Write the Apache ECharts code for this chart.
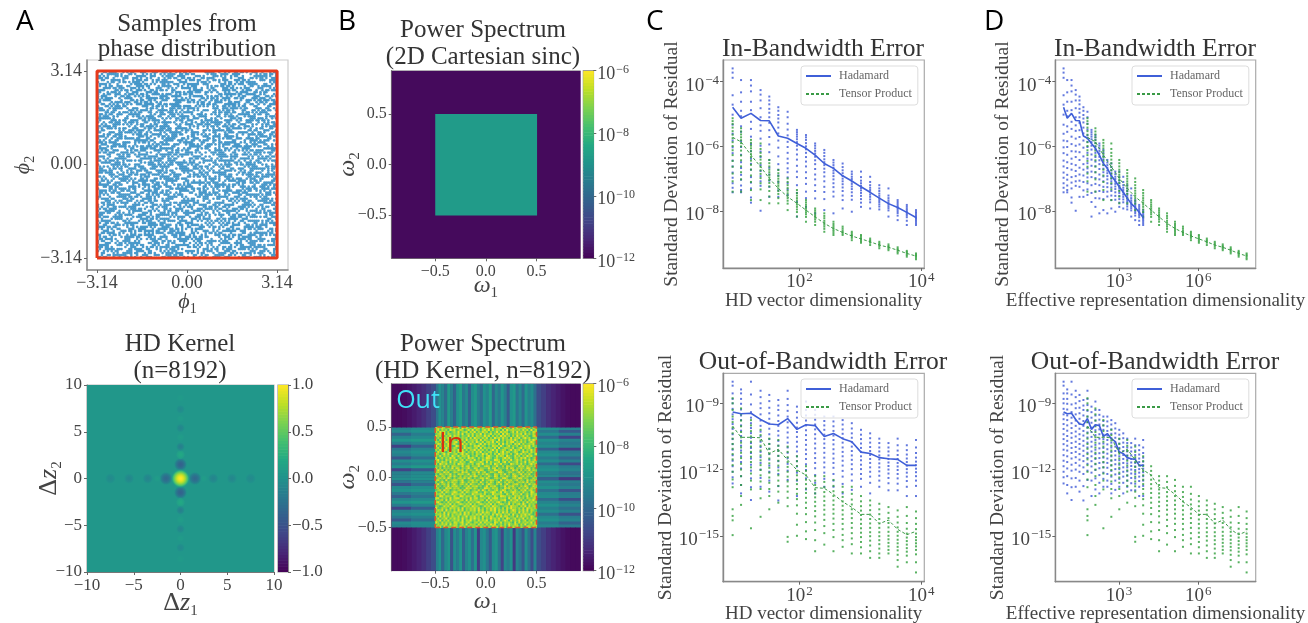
<!DOCTYPE html>
<html><head><meta charset="utf-8">
<style>html,body{margin:0;background:#fff}#c{width:1308px;height:623px;filter:blur(0.6px)}</style>
<script src="https://cdn.jsdelivr.net/npm/echarts@6/dist/echarts.min.js"></script>
</head><body><div id="c"></div>
<script>
// NOTE: line values and strip ranges are read off the picture. The individual speckles
// (phase samples, spectrum noise, stripes, strip dots) cannot be resolved in the source,
// so they are hand-typed estimates that follow its density and range.
const hdDims=[8,11,16,23,32,45,64,91,128,181,256,362,512,724,1024,1448,2048,2896,4096,5793,8192];
const tensorEffectiveDims=[64,128,256,512,1024,2048,4096,8192,16384,32768,65536,131072,262144,524288,1048576,2097152,4194304,8388608,16777216,33554432,67108864];

const inHadamard=[-4.79,-5.13,-4.98,-5.20,-5.21,-5.68,-5.75,-5.91,-6.06,-6.27,-6.53,-6.68,-6.91,-7.07,-7.25,-7.42,-7.60,-7.77,-7.89,-8.04,-8.20];
const inTensor=[-5.72,-5.86,-6.27,-6.63,-6.99,-7.30,-7.56,-7.76,-7.97,-8.18,-8.38,-8.54,-8.66,-8.77,-8.86,-8.95,-9.05,-9.12,-9.21,-9.31,-9.39];
const outHadamard=[-9.39,-9.47,-9.45,-9.73,-9.94,-9.97,-9.69,-10.18,-9.97,-10.01,-10.50,-10.37,-10.60,-10.74,-11.21,-11.27,-11.46,-11.51,-11.54,-11.81,-11.81];
const outTensor=[-10.03,-10.54,-10.54,-10.56,-11.27,-11.08,-11.57,-12.02,-12.25,-12.82,-12.85,-13.12,-13.46,-13.71,-14.03,-14.03,-14.45,-14.29,-14.71,-14.95,-14.80];

const inHadamardDots=[
[-3.59,-3.72,-3.88,-4.42,-4.71,-5.02,-5.33,-5.61,-5.82,-6.03,-6.21,-6.44,-6.62,-6.81,-6.97,-7.14,-7.28,-7.42],
[-3.95,-4.33,-4.62,-4.9,-5.07,-5.38,-5.55,-5.84,-6.02,-6.26,-6.49,-6.67,-6.88,-7.03,-7.21,-7.35,-7.42],
[-3.95,-4.12,-4.3,-4.62,-4.88,-5.24,-5.46,-5.7,-5.93,-6.15,-6.38,-6.54,-6.72,-6.95,-7.12,-7.3,-7.58,-7.74],
[-4.26,-4.4,-4.58,-4.82,-5.1,-5.35,-5.52,-5.76,-5.98,-6.16,-6.33,-6.58,-6.76,-6.92,-7.08,-7.22,-7.99],
[-4.46,-4.58,-4.7,-4.84,-4.96,-5.1,-5.27,-5.5,-5.71,-5.94,-6.18,-6.42,-6.66,-6.87,-7.06,-7.25,-7.56],
[-4.79,-4.9,-5.03,-5.14,-5.26,-5.42,-5.6,-5.82,-6.04,-6.31,-6.55,-6.72,-6.9,-7.1,-7.36,-7.56],
[-4.93,-5.1,-5.3,-5.48,-5.66,-5.86,-6.02,-6.2,-6.38,-6.52,-6.68,-6.8,-6.96,-7.14,-7.33,-7.5],
[-5.49,-5.56,-5.63,-5.7,-5.78,-5.87,-5.98,-6.1,-6.25,-6.41,-6.6,-6.78,-6.95,-7.2,-7.44,-7.72,-8.17],
[-5.65,-5.72,-5.8,-5.9,-6.0,-6.09,-6.2,-6.33,-6.47,-6.62,-6.8,-6.98,-7.16,-7.4,-7.6,-7.87],
[-5.91,-5.98,-6.06,-6.14,-6.22,-6.32,-6.43,-6.55,-6.7,-6.87,-7.02,-7.2,-7.38,-7.61,-8.07],
[-6.11,-6.2,-6.3,-6.4,-6.49,-6.58,-6.69,-6.8,-6.93,-7.08,-7.25,-7.41,-7.63,-7.97],
[-6.42,-6.5,-6.58,-6.66,-6.75,-6.83,-6.92,-7.02,-7.14,-7.26,-7.4,-7.55,-8.07],
[-6.53,-6.64,-6.74,-6.83,-6.92,-7.0,-7.08,-7.17,-7.27,-7.38,-7.52,-7.66,-7.92],
[-6.78,-6.86,-6.94,-7.01,-7.09,-7.16,-7.24,-7.32,-7.42,-7.53,-7.65,-8.02],
[-6.78,-6.95,-7.06,-7.14,-7.22,-7.29,-7.36,-7.44,-7.53,-7.63,-7.74,-7.87],
[-6.94,-7.1,-7.2,-7.28,-7.35,-7.42,-7.49,-7.56,-7.64,-7.73,-7.92],
[-7.2,-7.3,-7.38,-7.46,-7.53,-7.6,-7.66,-7.72,-7.79,-7.86,-7.95],
[-7.3,-7.52,-7.6,-7.67,-7.73,-7.79,-7.85,-7.91,-7.98,-8.17],
[-7.66,-7.72,-7.78,-7.84,-7.89,-7.94,-8.0,-8.06,-8.14,-8.28],
[-7.81,-7.87,-7.93,-7.98,-8.03,-8.08,-8.13,-8.19,-8.3,-8.43],
[-7.97,-8.03,-8.08,-8.13,-8.18,-8.22,-8.26,-8.31,-8.37,-8.43]];
const inTensorDots=[
[-5.13,-5.22,-5.31,-5.42,-5.53,-5.64,-5.75,-5.87,-5.99,-6.12,-6.27,-6.45,-6.63,-6.84,-7.08,-7.4],
[-5.44,-5.54,-5.63,-5.72,-5.81,-5.9,-6.0,-6.13,-6.28,-6.43,-6.62,-6.8,-7.02,-7.4],
[-5.8,-5.89,-5.98,-6.06,-6.15,-6.24,-6.33,-6.44,-6.57,-6.72,-6.9,-7.1,-7.35,-7.66],
[-5.91,-6.08,-6.2,-6.3,-6.41,-6.52,-6.63,-6.74,-6.85,-6.98,-7.14,-7.33,-7.66],
[-6.42,-6.52,-6.62,-6.72,-6.8,-6.88,-6.96,-7.04,-7.13,-7.24,-7.38,-7.55,-7.76],
[-6.73,-6.83,-6.92,-7.0,-7.08,-7.15,-7.22,-7.3,-7.38,-7.47,-7.6,-7.76],
[-6.99,-7.1,-7.2,-7.29,-7.37,-7.45,-7.52,-7.6,-7.68,-7.77,-7.97],
[-7.35,-7.44,-7.52,-7.6,-7.67,-7.74,-7.8,-7.87,-7.95,-8.03,-8.17],
[-7.66,-7.73,-7.8,-7.86,-7.92,-7.98,-8.04,-8.1,-8.18,-8.33],
[-7.92,-7.98,-8.04,-8.1,-8.15,-8.2,-8.26,-8.33,-8.43],
[-8.07,-8.15,-8.22,-8.3,-8.36,-8.42,-8.48,-8.55,-8.64],
[-8.33,-8.4,-8.46,-8.52,-8.57,-8.62,-8.68,-8.74],
[-8.48,-8.54,-8.6,-8.65,-8.69,-8.74],
[-8.64,-8.69,-8.74,-8.78,-8.83,-8.9],
[-8.74,-8.79,-8.84,-8.88,-8.93,-8.98],
[-8.85,-8.9,-8.94,-8.98,-9.05],
[-8.95,-9.0,-9.04,-9.09,-9.15],
[-9.03,-9.08,-9.12,-9.16,-9.21],
[-9.12,-9.17,-9.21,-9.26,-9.31],
[-9.23,-9.27,-9.31,-9.36,-9.41],
[-9.31,-9.35,-9.39,-9.44,-9.49]];
const outHadamardDots=[
[-8.02,-8.2,-8.55,-8.8,-9.0,-9.25,-9.5,-9.72,-9.94,-10.16,-10.4,-10.62,-10.85,-11.1,-11.35,-11.6,-11.85,-12.1,-12.35,-12.63],
[-8.37,-8.55,-8.8,-9.02,-9.28,-9.55,-9.76,-10.0,-10.24,-10.48,-10.7,-10.92,-11.14,-11.4,-11.66,-11.95,-12.3,-12.7,-13.08],
[-8.02,-8.6,-9.05,-9.4,-9.65,-9.9,-10.12,-10.35,-10.56,-10.8,-11.02,-11.25,-11.5,-11.78,-12.05,-12.4,-12.8,-13.38],
[-8.43,-8.72,-9.0,-9.22,-9.5,-9.78,-10.02,-10.28,-10.5,-10.74,-10.98,-11.2,-11.44,-11.7,-12.0,-12.38,-12.78],
[-8.62,-8.9,-9.2,-9.45,-9.7,-9.92,-10.15,-10.4,-10.62,-10.84,-11.06,-11.3,-11.55,-11.82,-12.1,-12.5,-13.0],
[-8.85,-9.1,-9.3,-9.55,-9.8,-10.02,-10.25,-10.46,-10.7,-10.92,-11.15,-11.38,-11.62,-11.9,-12.2,-12.75,-13.4],
[-8.43,-8.8,-9.08,-9.34,-9.6,-9.86,-10.1,-10.32,-10.55,-10.78,-11.0,-11.24,-11.48,-11.74,-12.05,-12.47],
[-9.15,-9.4,-9.65,-9.88,-10.1,-10.3,-10.52,-10.74,-10.96,-11.18,-11.4,-11.62,-11.86,-12.14,-12.5,-13.2],
[-8.92,-9.3,-9.55,-9.78,-10.0,-10.22,-10.44,-10.66,-10.88,-11.1,-11.3,-11.52,-11.76,-12.02,-12.4,-12.9],
[-9.3,-9.52,-9.74,-9.96,-10.18,-10.4,-10.6,-10.82,-11.04,-11.26,-11.48,-11.7,-11.94,-12.25,-12.6,-13.08],
[-9.6,-9.8,-10.0,-10.2,-10.42,-10.62,-10.82,-11.02,-11.24,-11.46,-11.68,-11.9,-12.14,-12.42,-12.78],
[-9.6,-9.82,-10.04,-10.25,-10.46,-10.66,-10.86,-11.08,-11.28,-11.5,-11.7,-11.92,-12.2,-12.5,-12.78],
[-9.76,-9.96,-10.18,-10.38,-10.58,-10.78,-11.0,-11.2,-11.4,-11.6,-11.82,-12.06,-12.32,-12.65,-13.08],
[-9.9,-10.14,-10.36,-10.56,-10.76,-10.96,-11.16,-11.36,-11.56,-11.76,-11.98,-12.22,-12.5,-12.92],
[-10.2,-10.42,-10.62,-10.82,-11.02,-11.2,-11.4,-11.58,-11.78,-11.98,-12.2,-12.42,-12.78],
[-10.36,-10.58,-10.78,-10.98,-11.16,-11.34,-11.52,-11.7,-11.9,-12.1,-12.32,-12.6,-13.08],
[-10.6,-10.8,-11.0,-11.18,-11.36,-11.54,-11.72,-11.9,-12.08,-12.28,-12.5,-12.78],
[-10.8,-11.0,-11.18,-11.36,-11.52,-11.68,-11.84,-12.0,-12.18,-12.38,-12.62,-12.94],
[-10.6,-10.9,-11.14,-11.34,-11.52,-11.7,-11.86,-12.02,-12.2,-12.4,-12.64,-12.94],
[-10.9,-11.12,-11.32,-11.5,-11.66,-11.82,-11.98,-12.14,-12.32,-12.52,-12.78,-13.2],
[-10.66,-11.0,-11.25,-11.46,-11.64,-11.8,-11.96,-12.12,-12.3,-12.5,-12.74,-13.2]];
const outTensorDots=[
[-8.77,-9.0,-9.3,-9.6,-9.85,-10.1,-10.36,-10.6,-10.84,-11.06,-11.3,-11.54,-11.8,-12.1,-12.45,-12.8,-13.8,-14.1,-14.3,-14.97],
[-9.23,-9.5,-9.78,-10.04,-10.3,-10.54,-10.78,-11.0,-11.24,-11.48,-11.74,-12.0,-12.3,-12.7,-13.2,-13.6],
[-9.76,-10.0,-10.26,-10.5,-10.74,-10.96,-11.2,-11.42,-11.66,-11.9,-12.18,-12.5,-12.9,-14.66],
[-10.2,-10.44,-10.68,-10.92,-11.14,-11.36,-11.58,-11.8,-12.02,-12.26,-12.54,-12.88,-13.3,-14.14],
[-10.6,-10.84,-11.06,-11.28,-11.5,-11.72,-11.92,-12.14,-12.36,-12.6,-12.88,-13.2,-13.8],
[-10.66,-10.92,-11.16,-11.38,-11.6,-11.82,-12.04,-12.26,-12.5,-12.74,-13.0,-13.5],
[-10.96,-11.2,-11.44,-11.66,-11.88,-12.1,-12.32,-12.54,-12.76,-13.0,-13.28,-13.66,-15.05,-15.27],
[-11.4,-11.62,-11.84,-12.06,-12.26,-12.46,-12.66,-12.88,-13.1,-13.34,-13.62,-14.0,-14.5,-15.0],
[-11.85,-12.06,-12.26,-12.46,-12.66,-12.86,-13.06,-13.28,-13.5,-13.74,-14.02,-14.38,-14.8,-15.15],
[-12.3,-12.5,-12.7,-12.9,-13.08,-13.26,-13.46,-13.66,-13.88,-14.12,-14.4,-14.74,-15.2,-15.7],
[-12.3,-12.56,-12.8,-13.02,-13.22,-13.42,-13.62,-13.82,-14.04,-14.28,-14.56,-14.88,-15.4],
[-12.47,-12.74,-12.98,-13.2,-13.4,-13.6,-13.8,-14.0,-14.22,-14.46,-14.74,-15.06,-15.7],
[-12.78,-13.02,-13.24,-13.44,-13.64,-13.84,-14.04,-14.24,-14.46,-14.7,-14.96,-15.2,-15.5],
[-12.78,-13.1,-13.36,-13.58,-13.8,-14.0,-14.2,-14.42,-14.64,-14.88,-15.12,-15.38,-15.8],
[-13.2,-13.44,-13.66,-13.86,-14.06,-14.26,-14.46,-14.66,-14.86,-15.06,-15.28,-15.52,-15.8],
[-13.4,-13.62,-13.84,-14.04,-14.24,-14.44,-14.64,-14.84,-15.02,-15.22,-15.44,-15.7,-16.0],
[-13.55,-13.8,-14.02,-14.24,-14.44,-14.64,-14.84,-15.02,-15.2,-15.38,-15.58,-15.8,-16.0],
[-13.7,-13.96,-14.2,-14.42,-14.62,-14.82,-15.0,-15.16,-15.32,-15.48,-15.64,-15.8],
[-13.85,-14.14,-14.4,-14.62,-14.82,-15.0,-15.18,-15.34,-15.5,-15.66,-15.86,-16.1,-16.4],
[-13.7,-14.1,-14.42,-14.68,-14.9,-15.08,-15.24,-15.4,-15.56,-15.72,-15.9,-16.2],
[-13.9,-14.2,-14.46,-14.7,-14.9,-15.06,-15.2,-15.34,-15.48,-15.64,-15.84,-16.2,-16.66]];

// phase samples as occupancy rows (hex, 4 cells a digit, top row first)
const phaseRows=[
"9d3a6c17e25b08f4ac6931d","4e71b8a25fc630d97e14a6b","b26d0f93a7e1c58b2d40f79","731ec5a84b9d26f0317ca5e",
"c8f2473de06ab1957cd283f","1a96db05f7c38e24a96f10d","e540a7b2693dfc18b57e36a","2dc91f68e3a4705bd28c4f9",
"87b3ea4c159f62d07ba3c15","f06d2795bc08e3a1f6472de","3ab8c1e6047dd952a8e1b60","96e47d2fa35b180ce73f924",
"d12b9a60fc78e35b41d07ca","5f8c34e7b19a06d2fc68b31","a7016dc2e8f5394ba027de6","38ed95b4107ca62f8d13a5c",
"c45a27f9de3086b1e79c42f","1be6083dac7f4592b6d0381","74f9c1a52e6db0837fa1ec4","e2307db8f694ac15d2c85b9",
"0b9ea6c4375f128de64ba70","6dc1f3827ea09b4561f3dc8","a3584be91dc72f06ab8e147","f71c06d3a2b5e849073cd5a",
"28b6e95f40dc1a73e92f6b0","9ce4713aeb8256dfc0174a6","41fa2d86c05e9b37a6e82dc","b7309ce5f168a4d2739b05f",
"5ea6c1d273fb8094ceb4a13","d0827f4eb3961cafd1063e8","3c9db6a05e72f481a3f9c26","86e1473f9cd0ba25684ed1b",
"f2b50ea86d143c97eb02a7d","19cd7362af85e0b4d93f681","a4608fb1c7e23d95068cbe4","7d3e9a52b04f168ce7a4d30",
"c1f6804de93ab275fc1936a","2ab75de61c08f9341eb7d82","e9046cb3f72d8a1569c30ef","5378ad1e94b6c02fa45de16",
"bd1f62a8073e59cd1682fa3","06ca9e34fbd7128e3dc5b09","f48b13d765a0e92c7f0a4d6","92e70cfa3b18d64a05ebc71",
"3d5ab68e1f092c7df3946ae","c7e204d9a6fb3581ac27d08","18f693cb57e4d02be96f15a","a25d8e07f1c36b94d08a3ce",
"64b1fc93a0d7e258137cfb6","ed09273cb68f15a4e5ac092","7f4a61e8dc052b9f30d6e84","0c93bd5f2a78e61cb94f2d7",
"b86e1470f93cad25e1067fa","419fac26d7b308e5ca3d91c","da075eb38f1629c4a7f4b06","26e8c91da405f7b318dc6e3",
"f3b14a7ec86d092fb65017d","8d60f25b93ae1c47d2ea9b4","1ca7d84e06f3b592c0473fe","e53b90f6a1c72d84f9b6a21",
"69d0ec47b2581fa36ed18c5","a28f136dc9e04b75a03f7d9","34c7b5ea0f928d1e7c94b60","db1e68f2a7053c964be12fa",
"07a93dc6e18fb42095d6c73","c65f82b14ad7e03f1a8b0ed","9e14cb07d36a2f85e3c7916","52b7f0a9e84d1c63b0fa4d8",
"ad38e615c2f09b7d4e6123c","1f90d7ca43b6e582f71dba9","e6c258b07d1f3a94c802e6f","70ad3e9cf5168b2d96fa143",
"b3f1476d0ae9c528073db6e","48e92cb5f1a07d36bfc1089","d7061ae84fc3925ba46e7d2","2b5cf9d3706e18a4d29035f",
"91ea60c7b3d4f2586e1ba7c","f6384db2e19c07a5138fe40","5ac07e19f6b2d384ca96d1b","8317b6fd4ea05c92f7e028a",
"ce92a05d37f1b86d01c4f73","34b8e6f14cd92a07b63e95d","a90d73c2f85e6b14e2d7a08","6f2c15ab90e7d348a1f6c3e",
"d84e92076bc3a1f5782db96","17a5f3ce2d094b68fc3e104","e3c96d0b81f7a254096cda7","7b04e8a5fd3c6192b5e7f38",
"2fd1b7649ea08c53d1fa26c","9a683fc05d1eb472e60c9b4","c05eb1d2a7f4968c3ba7d15","46f7293e8bd06a1f95c482e",
"b19ca4e06f352d87e0d3fa6"];
const phaseCells=92;

// power-spectrum panels: level digits / log10 exponents
const sincOutLevel=-11.85, sincInLevel=-8.75;
const inBandNoise=[
"67485357265819473628571746839265718462937456827164",
"58274619682576148392751684927365182946755638471926",
"73958261473926581749263857162493857614829364715287",
"46829175364829157382649173582647193852647581936274",
"85713649285716439281756394817263958461729458362178",
"36267481582936471829563748162957384619275826947135",
"61849273651847293564819275368419273658495173628496",
"75293861479253816472953816749285361748926483715962",
"48716392584169372846159283746518293746185927346581",
"92637485129673841528693741528673941582637164859273",
"57182946375182947635819274653819247653814692758316",
"63948721563948271659384726159382476159385728164937",
"28475169372849516372849153672481593762486139572846",
"76159382467159384261753948261739584627159483627518",
"53827461953827649153824716953284761953284716395824",
"81472639581473629584172639851473269584176385926147",
"69251847369258174639251847632985174639258471638259",
"47385619274385612973458619273458169273458263917584",
"71964825371968425371684925371964825319647382615947",
"54639271865439278165493278615493271865431958274638",
"82716453928716459328716543927816453928716475398261",
"39581726463958172643958712643985712643957182649375",
"67429581376429583176492581376429851376425937164825",
"51863749251867349258163749521863749251863592748136",
"94276158384271653849726153842971653842796158374629",
"26748395162674839516247839512674389512674983651274",
"78351924687359124683751924687351924867358264193758",
"61594273856159427385619427385169427385614758392641",
"49267381594267381954273815964273815942678351729468",
"83516492768351649276835149276831549276835274961385",
"57142968375714296837514298637571429683751836492758",
"36829571463682957146382951743682597146384175926834",
"72491853697249185367924185369724918536974628351972",
"65738142956573814295657381429565731842956391472856",
"41983765284198376528419837652841987365285726391748",
"88254619378825461937825461937882546193782946175368",
"53671928465367192846536719284653679128469381627594",
"79415283637941528363794152836379415283674518293746",
"25863749172586374917258637491725863491726839517462",
"64138572966413857296641385729664135729665174928367",
"92374618573829164758392617485936271849563728195647",
"47581936272948163758294716385927463815972648391752",
"83619274586371948256173948625817394826571938462715",
"56748291736582947163859274618395726481936275948316",
"71938462753816492758361947285163948725619384752961",
"38265917484729361859472816395748261973582649173856",
"64917382564829175936284759163847259618374925816473",
"95283746187369258416739285641973826574192836574928",
"26475819367148392756184627395814627395486173925648",
"73819264586294718365927481639572846193758264197385"];
const leftBandFar=[-9.4,-9.2,-10.1,-9.3,-8.9,-9.5,-10.9,-9.6,-9.2,-9.4,-10.4,-9.1,-9.5,-9.0,-10.8,-9.4,-9.3,-9.1,-9.7,-10.5,-9.2,-9.0,-9.6,-10.2,-9.3,-8.9,-9.5,-10.8,-9.3,-9.1,-9.6,-10.3,-9.2,-9.4];
const leftBandNear=[-9.2,-9.0,-9.5,-9.2,-8.8,-9.3,-10.1,-9.3,-9.0,-9.2,-9.8,-9.0,-9.3,-8.8,-10.3,-9.2,-9.1,-9.0,-9.4,-9.9,-9.1,-8.9,-9.4,-9.7,-9.2,-8.8,-9.3,-10.2,-9.2,-9.0,-9.4,-9.8,-9.1,-9.2];
const rightBandNear=[-9.1,-9.6,-9.1,-9.9,-9.0,-9.3,-9.1,-10.1,-9.2,-9.0,-9.5,-9.1,-9.9,-9.2,-9.0,-9.4,-9.2,-10.2,-9.1,-9.3,-9.0,-9.7,-9.2,-9.1,-9.9,-9.3,-9.0,-9.4,-9.1,-9.8,-9.2,-9.0,-9.5,-9.2];
const rightBandFar=[-9.4,-10.3,-9.4,-10.8,-9.3,-9.6,-9.4,-10.9,-9.5,-9.3,-10.0,-9.4,-10.7,-9.5,-9.3,-9.8,-9.5,-11.0,-9.4,-9.6,-9.3,-10.4,-9.5,-9.4,-10.6,-9.6,-9.3,-9.8,-9.4,-10.5,-9.5,-9.3,-10.1,-9.5];
const topBand=[-9.7,-9.0,-9.3,-9.9,-8.8,-9.4,-10.1,-9.0,-8.7,-9.6,-9.2,-10.2,-9.1,-8.8,-9.5,-9.9,-9.0,-9.3,-8.7,-10.0,-9.2,-9.6,-8.9,-9.4,-10.3,-9.0,-8.8,-9.7,-9.2,-9.9,-8.9,-9.4,-9.1,-9.8];
const bottomBand=[-9.4,-9.0,-10.0,-9.2,-8.9,-10.5,-9.1,-9.5,-8.9,-10.2,-9.3,-9.0,-9.8,-8.9,-10.9,-9.2,-9.0,-9.6,-10.3,-9.1,-8.9,-9.7,-10.8,-9.2,-9.5,-9.0,-11.0,-9.3,-9.7,-10.4,-9.1,-9.8,-10.6,-9.3];
const cornerFade=[-10.6,-10.9,-11.2,-11.4,-11.55,-11.7,-11.8,-11.85,-11.85];
// region annotations on the spectrum: text, omega1, omega2
const spectrumNotes=[['Out',-.67,.76],['In',-.34,.33]];
const noteColors={Out:'#3fe3f7',In:'#d8300f'};

// HD kernel: x, y, radius, value at the centre of each lobe
const kernelBackground=0.05;
const kernelLobes=[
[-1.55,0,.75,-.32],[1.55,0,.75,-.32],[-3.5,0,.6,-.1],[3.5,0,.6,-.1],[-5.5,0,.6,-.08],[5.5,0,.6,-.08],[-7.5,0,.6,-.06],[7.5,0,.6,-.06],[-2.5,0,.4,.1],[2.5,0,.4,.1],
[0,1.5,.75,-.38],[0,-1.5,.75,-.38],[0,2.55,.55,.2],[0,-2.55,.55,.2],[0,3.4,.5,-.14],[0,-3.4,.5,-.14],[0,4.4,.45,.1],[0,-4.4,.45,.1],[0,5.4,.5,-.09],[0,-5.4,.5,-.09],[0,6.4,.45,.09],[0,-6.4,.45,.09],[0,7.4,.5,-.06],[0,-7.4,.5,-.06],[0,8.6,.45,.08],[0,-8.6,.45,.08],
[0,0,1.05,1.0]];

const xTicksPhase=[-3.14,0,3.14], kernelTicks=[-10,-5,0,5,10], omegaTicks=[-.5,0,.5];
const spectrumBarTicks=[-12,-10,-8,-6], kernelBarTicks=[-1,-.5,0,.5,1];

const SERIF='"Liberation Serif",serif', SANS='"Open Sans",sans-serif', TXT='#333';
const VIR=['#440154','#482475','#414487','#355f8d','#2a788e','#21918c','#22a884','#44bf70','#7ad151','#bddf26','#fde725'].map(h=>[1,3,5].map(i=>parseInt(h.slice(i,i+2),16)));
function vir(t,a){t=Math.max(0,Math.min(1,t))*10;const i=Math.min(9,Math.floor(t)),f=t-i,c=VIR[i].map((v,k)=>Math.round(v+(VIR[i+1][k]-v)*f));return a===undefined?`rgb(${c})`:`rgba(${c},${a})`;}
const specT=e=>(e+12)/6, kernT=v=>(v+1)/2;
const minus=s=>String(s).replace('-','\u2212');
const fmtExp=v=>`{b|10}{s|${minus(v)}}`;
const richExp=(b,s,p)=>({b:{fontFamily:SERIF,fontSize:b,color:'#444',verticalAlign:'bottom'},s:{fontFamily:SERIF,fontSize:s,color:'#444',verticalAlign:'bottom',padding:[0,0,p,1]}});
const subName=(a,b)=>`{i|${a}}{d|${b}}`;
const deltaName=(a,b)=>`{u|Δ}{i|${a}}{d|${b}}`;
const richSub=(a,d)=>({u:{fontFamily:SERIF,fontSize:a,color:'#444',verticalAlign:'bottom'},i:{fontFamily:SERIF,fontStyle:'italic',fontSize:a,color:'#444',verticalAlign:'bottom'},d:{fontFamily:SERIF,fontSize:d,color:'#444',verticalAlign:'bottom',padding:[0,0,-3,0]}});

const grids=[],xAxes=[],yAxes=[],series=[];
function axis(o,gridIndex){return {type:'value',gridIndex,min:o.min,max:o.max,scale:true,position:o.position,
  name:o.name,nameLocation:'middle',nameGap:o.gap,nameRotate:o.rotate,nameMoveOverlap:false,nameTextStyle:Object.assign({fontFamily:SERIF,fontSize:o.nameSize||19.5,color:'#444'},o.rich?{rich:o.rich}:{}),
  splitLine:{show:false},
  axisLine:{show:o.line!==false,onZero:false,lineStyle:{color:o.lineColor||'#777',width:o.lineWidth||1.2}},
  axisTick:{show:o.ticks!==undefined,customValues:o.ticks,length:3,lineStyle:{color:'#666'}},
  axisLabel:{show:o.ticks!==undefined,customValues:o.ticks,formatter:o.fmt,margin:o.margin||5,hideOverlap:false,padding:o.labelPad,fontFamily:SERIF,fontSize:o.size||17,color:'#444',rich:o.labelRich}};}
function panel(box,x,y,border){const i=grids.length;grids.push({left:box[0],top:box[1],width:box[2],height:box[3],show:true,borderColor:border||'#bbb',borderWidth:1.2,backgroundColor:'transparent',containLabel:false,outerBoundsMode:'none'});xAxes.push(axis(x,i));yAxes.push(axis(y,i));return i;}
function cells(i,data,toT,z){series.push({type:'custom',xAxisIndex:i,yAxisIndex:i,silent:true,z:z||2,clip:true,progressive:0,data,encode:{x:[0,1],y:[2,3]},animation:false,
  renderItem:(p,api)=>{const a=api.coord([api.value(0),api.value(2)]),b=api.coord([api.value(1),api.value(3)]);
    return {type:'rect',shape:{x:a[0],y:b[1],width:b[0]-a[0]+.6,height:a[1]-b[1]+.6},style:{fill:vir(toT(api.value(4)))}};}});}
function colorbar(box,ticks,toT,lo,hi,fmt,size,rich,pad){const i=panel(box,{min:0,max:1,line:false},{min:lo,max:hi,position:'right',ticks,fmt,size,labelRich:rich,labelPad:pad,margin:4,lineColor:'#888'},'#999');
  const d=[];for(let k=0;k<64;k++){const a=lo+(hi-lo)*k/64,b=lo+(hi-lo)*(k+1)/64;d.push([0,1,a,b,(a+b)/2]);}cells(i,d,toT);}

// --- A: samples
const iA1=panel([87,60,201,210],
 {min:-3.49,max:3.52,ticks:xTicksPhase,fmt:v=>minus(v.toFixed(2)),size:18,name:subName('ϕ','1'),gap:21,rich:richSub(22,14),lineColor:'#888',lineWidth:1.5,margin:4},
 {min:-3.54,max:3.51,ticks:xTicksPhase,fmt:v=>minus(v.toFixed(2)),size:18,name:subName('ϕ','2'),gap:53,rich:richSub(22,14),lineColor:'#888',lineWidth:1.5},'#ccc');
const phasePts=[];
phaseRows.forEach((row,r)=>{for(let h=0;h<row.length;h++){const bits=parseInt(row[h],16);for(let b=0;b<4;b++)if(bits&(1<<b))
  phasePts.push([-3.14+6.28*((h*4+b+.5)/phaseCells),3.14-6.28*((r+.5)/phaseRows.length)]);}});
series.push({type:'scatter',name:'Samples',xAxisIndex:iA1,yAxisIndex:iA1,data:phasePts,symbolSize:2.7,progressive:0,itemStyle:{color:'#3a90c5',opacity:.9},silent:true,animation:false,large:false});
const phaseBox=[[-3.14,-3.14],[3.14,-3.14],[3.14,3.14],[-3.14,3.14],[-3.14,-3.14]];
series.push({type:'line',xAxisIndex:iA1,yAxisIndex:iA1,data:phaseBox,symbol:'none',z:5,silent:true,animation:false,lineStyle:{color:'#e63a1c',width:3}});

// --- A: kernel
const iA2=panel([87,385,187,187],
 {min:-10,max:10,ticks:kernelTicks,fmt:v=>minus(v),size:17,name:deltaName('z','1'),gap:18,rich:richSub(26,15)},
 {min:-10,max:10,ticks:kernelTicks,fmt:v=>minus(v),size:17,name:deltaName('z','2'),gap:25,rich:richSub(26,15)});
cells(iA2,[[-10,10,-10,10,kernelBackground]],kernT,2);
series.push({type:'custom',xAxisIndex:iA2,yAxisIndex:iA2,silent:true,z:3,clip:true,progressive:0,data:kernelLobes,encode:{x:0,y:1},animation:false,
 renderItem:(p,api)=>{const c=api.coord([api.value(0),api.value(1)]),r=api.size([api.value(2),0])[0],v=api.value(3),stops=[];
  for(let k=0;k<=8;k++){const f=k/8;stops.push({offset:f,color:vir(kernT(kernelBackground+(v-kernelBackground)*Math.pow(1-f*f,1.3)),Math.min(1,(1-f)*4))});}
  return {type:'circle',shape:{cx:c[0],cy:c[1],r},style:{fill:new echarts.graphic.RadialGradient(.5,.5,.5,stops)}};}});
colorbar([278,385,10,187],kernelBarTicks,kernT,-1,1,v=>minus(v.toFixed(1)),17);

// --- B
const omegaY=(gap)=>({min:-.93,max:.93,ticks:omegaTicks,fmt:v=>minus(v.toFixed(1)),size:16,name:subName('ω','2'),gap,rich:richSub(24,15)});
const omegaX=(gap)=>({min:-.93,max:.93,ticks:omegaTicks,fmt:v=>minus(v.toFixed(1)),size:16,name:subName('ω','1'),gap,rich:richSub(24,15)});
const iB1=panel([391.7,70.7,188.3,187.6],omegaX(15),omegaY(32));
cells(iB1,[[-.93,.93,-.93,.93,sincOutLevel],[-.5,.5,-.5,.5,sincInLevel]],specT);
const iB2=panel([391.7,383.7,188.3,187],omegaX(19),omegaY(32));
const b2=[[-.93,.93,-.93,.93,sincOutLevel]];
const nb=leftBandFar.length, bh=1/nb;
for(let r=0;r<nb;r++){const y1=.5-r*bh,y0=y1-bh;
 b2.push([-.93,-.74,y0,y1,leftBandFar[r]],[-.74,-.5,y0,y1,leftBandNear[r]],[.5,.72,y0,y1,rightBandNear[r]],[.72,.93,y0,y1,rightBandFar[r]]);
 const x0=-.5+r*bh,x1=x0+bh;
 b2.push([x0,x1,.5,.93,topBand[r]],[x0,x1,-.93,-.5,bottomBand[r]]);}
const cw=.43/cornerFade.length;
cornerFade.forEach((e,k)=>{const d0=k*cw,d1=d0+cw;
 b2.push([-.5-d1,-.5-d0,.5,.93,e],[.5+d0,.5+d1,.5,.93,e],[-.5-d1,-.5-d0,-.93,-.5,e],[.5+d0,.5+d1,-.93,-.5,e]);});
const nr=inBandNoise.length,ns=1/nr;
inBandNoise.forEach((row,r)=>{for(let c=0;c<row.length;c++){const x0=-.5+c/row.length,y1=.5-r*ns;b2.push([x0,x0+1/row.length,y1-ns,y1,-8.0+.2*Number(row[c])]);}});
cells(iB2,b2,specT);
series.push({type:'line',xAxisIndex:iB2,yAxisIndex:iB2,data:[[-.5,-.5],[.5,-.5],[.5,.5],[-.5,.5],[-.5,-.5]],symbol:'none',z:5,silent:true,animation:false,lineStyle:{color:'#e0552a',width:1.6,type:[5,3]}});
series.push({type:'custom',xAxisIndex:iB2,yAxisIndex:iB2,silent:true,z:6,animation:false,data:spectrumNotes.map(n=>[n[1],n[2],n[0]]),dimensions:['x','y',{name:'t',type:'ordinal'}],encode:{x:0,y:1},
 renderItem:(p,api)=>{const c=api.coord([api.value(0),api.value(1)]),t=spectrumNotes[p.dataIndex][0];
  return {type:'text',x:c[0],y:c[1],z2:50,style:{text:t,fill:noteColors[t],fontFamily:SANS,fontSize:t==='In'?28:25,textAlign:'center',textVerticalAlign:'middle',align:'center',verticalAlign:'middle'}};}});
const barRich=richExp(18,12,7), expPad=[6,0,0,0];
colorbar([583.3,70.7,10,187.6],spectrumBarTicks,specT,-12,-6,fmtExp,18,barRich,expPad);
colorbar([583.3,383.7,10,187],spectrumBarTicks,specT,-12,-6,fmtExp,18,barRich,expPad);

// --- C / D
const tickRich=richExp(19,13,8);
function errPanel(box,xr,xt,yr,yt,xName,xGap,yGap,xsB,xsG,lineB,lineG,dotsB,dotsG){
 const i=panel(box,{min:xr[0],max:xr[1],ticks:xt,fmt:fmtExp,size:19,labelRich:tickRich,name:xName,nameSize:19,gap:xGap,lineColor:'#888',lineWidth:1.4,margin:3},
  {min:yr[0],max:yr[1],ticks:yt,fmt:fmtExp,size:19,labelRich:tickRich,labelPad:expPad,name:'Standard Deviation of Residual',gap:yGap,lineColor:'#888',lineWidth:1.4,margin:4},'#aaa');
 const strip=(xs,dots)=>{const o=[];dots.forEach((col,k)=>col.forEach(e=>o.push([Math.log10(xs[k]),e])));return o;};
 const dot=(name,d,color,z)=>series.push({type:'scatter',name,xAxisIndex:i,yAxisIndex:i,data:d,symbol:'rect',symbolSize:2,z,silent:true,animation:false,itemStyle:{color,opacity:.8}});
 dot('Hadamard samples',strip(xsB,dotsB),'#3b56d6',2);
 dot('Tensor Product samples',strip(xsG,dotsG),'#2e9e3a',3);
 const ln=(name,xs,ys,st,z)=>series.push({type:'line',name,xAxisIndex:i,yAxisIndex:i,data:ys.map((e,k)=>[Math.log10(xs[k]),e]),symbol:'none',z,silent:true,animation:false,lineStyle:st,itemStyle:{color:st.color}});
 ln('Hadamard',xsB,lineB,{color:'#3f5fd8',width:1.6},4);
 ln('Tensor Product',xsG,lineG,{color:'#3a9a46',width:1,type:[3,2]},4);
}
const cX=[.745,4.05],dX=[.59,8.17],y1=[-9.76,-3.33],y2=[-17.08,-7.64];
const HD='HD vector dimensionality',ER='Effective representation dimensionality';
errPanel([723,60,201.3,208],cX,[2,4],y1,[-8,-6,-4],HD,24,41,hdDims,hdDims,inHadamard,inTensor,inHadamardDots,inTensorDots);
errPanel([723,373.3,201.3,208.4],cX,[2,4],y2,[-15,-12,-9],HD,23,47,hdDims,hdDims,outHadamard,outTensor,outHadamardDots,outTensorDots);
errPanel([1055.3,60,200.4,208],dX,[3,6],y1,[-8,-6,-4],ER,24,42,hdDims,tensorEffectiveDims,inHadamard,inTensor,inHadamardDots,inTensorDots);
errPanel([1055.3,373.3,200.4,208.4],dX,[3,6],y2,[-15,-12,-9],ER,23,47,hdDims,tensorEffectiveDims,outHadamard,outTensor,outHadamardDots,outTensorDots);

const legendAt=(left,top)=>({left,top,orient:'vertical',data:['Hadamard','Tensor Product'],itemWidth:25,itemHeight:1,itemGap:6,padding:[4,6,5,4],
 backgroundColor:'rgba(255,255,255,.82)',borderColor:'#ddd',borderWidth:1,borderRadius:3,selectedMode:false,textStyle:{fontFamily:SERIF,fontSize:12,color:'#666',padding:[0,0,0,3]}});

const tt=(text,left,top,size,lh)=>({text,left,top,textAlign:'center',textStyle:{fontFamily:SERIF,fontWeight:'normal',fontSize:size,lineHeight:lh,color:TXT}});
const lab=(text,x,y,size,fill,family)=>({type:'text',left:x,top:y,z:20,style:{text,fontFamily:family||SANS,fontSize:size,fill}});

const chart=echarts.init(document.getElementById('c'),null,{renderer:'canvas',width:1308,height:623});
chart.setOption({animation:false,backgroundColor:'#fff',
 title:[tt('Samples from\nphase distribution',182,7,25,25),tt('HD Kernel\n(n=8192)',175,326,25,27),tt('Power Spectrum\n(2D Cartesian sinc)',478,12,25,27),tt('Power Spectrum\n(HD Kernel, n=8192)',478,326,25,27),
  tt('In-Bandwidth Error',818,30,25.5,28),tt('Out-of-Bandwidth Error',818,343,25.5,28),tt('In-Bandwidth Error',1150,30,25.5,28),tt('Out-of-Bandwidth Error',1150,343,25.5,28)],
 legend:[legendAt(801,66),legendAt(801,379),legendAt(1132,66),legendAt(1132,379)],
 grid:grids,xAxis:xAxes,yAxis:yAxes,series,
 graphic:[lab('A',16,8,28,'#000'),lab('B',338,8,28,'#000'),lab('C',646,8,28,'#000'),lab('D',984,8,28,'#000')]});
</script></body></html>
